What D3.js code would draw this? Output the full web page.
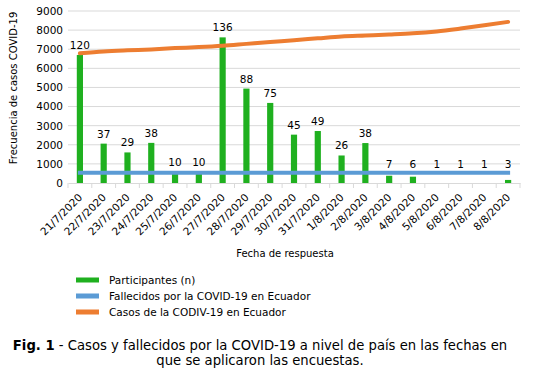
<!DOCTYPE html>
<html>
<head>
<meta charset="utf-8">
<script src="https://cdn.jsdelivr.net/npm/d3@7"></script>
<style>
  body { margin: 0; background: #fff; }
  text { font-family: "DejaVu Sans", Verdana, sans-serif; fill: #000; }
</style>
</head>
<body>
<script>
// data
var fechas = ["21/7/2020","22/7/2020","23/7/2020","24/7/2020","25/7/2020","26/7/2020",
              "27/7/2020","28/7/2020","29/7/2020","30/7/2020","31/7/2020","1/8/2020",
              "2/8/2020","3/8/2020","4/8/2020","5/8/2020","6/8/2020","7/8/2020","8/8/2020"];
var participantes = [120, 37, 29, 38, 10, 10, 136, 88, 75, 45, 49, 26, 38, 7, 6, 1, 1, 1, 3];
var barraAltura = [6700, 2060, 1600, 2100, 560, 560, 7620, 4940, 4190, 2530, 2720, 1440, 2090, 380, 330, 0, 0, 0, 160];
var fallecidos = [540, 540, 540, 540, 540, 540, 540, 540, 540, 540, 540, 540, 540, 540, 540, 540, 540, 540, 540];
var casos = [6790, 6880, 6940, 6990, 7060, 7110, 7180, 7280, 7380, 7470, 7570, 7670, 7720, 7770, 7830, 7930, 8080, 8250, 8430];
var yTicks = [0, 1000, 2000, 3000, 4000, 5000, 6000, 7000, 8000, 9000];

var width = 533, height = 373;
var margin = {left: 68, right: 13, top: 11, bottom: 190};

var svg = d3.select("body").append("svg")
  .attr("width", width).attr("height", height);

var x = d3.scaleBand()
  .domain(fechas)
  .range([margin.left, width - margin.right])
  .paddingInner(0.74).paddingOuter(0.37);

var xEdges = d3.scaleBand().domain(fechas).range([margin.left, width - margin.right]);

var y = d3.scaleLinear()
  .domain([0, 9000])
  .range([183, margin.top]);

// gridlines
svg.append("g")
  .selectAll("line").data(yTicks.slice(1)).enter().append("line")
  .attr("x1", margin.left).attr("x2", width - margin.right)
  .attr("y1", function(d){return y(d);}).attr("y2", function(d){return y(d);})
  .attr("stroke", "#d9d9d9").attr("stroke-width", 1);

// y axis
var yAxis = d3.axisLeft(y).tickValues(yTicks).tickFormat(d3.format("d")).tickSize(0).tickPadding(5);
var gy = svg.append("g").attr("transform", "translate(" + margin.left + ",0)").call(yAxis);
gy.select(".domain").remove();
gy.selectAll("text").style("font-size", "10.5px").attr("fill", "#000");

// x axis
var xAxis = d3.axisBottom(xEdges).tickSize(0).tickFormat("");
var gx = svg.append("g").attr("transform", "translate(0," + y(0) + ")").call(xAxis);
gx.select(".domain").attr("stroke", "#d9d9d9");
gx.selectAll(".tickmark").data(fechas.concat(["end"])).enter().append("line")
  .attr("x1", function(d, i){return margin.left + i * xEdges.step();})
  .attr("x2", function(d, i){return margin.left + i * xEdges.step();})
  .attr("y1", 0).attr("y2", 5)
  .attr("stroke", "#d9d9d9");

svg.append("g").selectAll("text").data(fechas).enter().append("text")
  .attr("transform", function(d){
    return "translate(" + (x(d) + x.bandwidth() / 2 + 3) + "," + (y(0) + 15) + ") rotate(-45)";
  })
  .attr("text-anchor", "end")
  .style("font-size", "10.5px")
  .text(function(d){return d;});

// bars
svg.append("g").selectAll("rect").data(barraAltura).enter().append("rect")
  .attr("x", function(d, i){return x(fechas[i]);})
  .attr("width", x.bandwidth())
  .attr("y", function(d){return y(d);})
  .attr("height", function(d){return y(0) - y(d);})
  .attr("fill", "#1fb01f");

// lines
var line = d3.line()
  .x(function(d, i){return x(fechas[i]) + x.bandwidth() / 2;})
  .y(function(d){return y(d);});

svg.append("path").attr("d", line(fallecidos))
  .attr("fill", "none").attr("stroke", "#5b9bd5").attr("stroke-width", 4)
  .attr("stroke-linecap", "square");

svg.append("path").attr("d", line.curve(d3.curveMonotoneX)(casos))
  .attr("fill", "none").attr("stroke", "#ed7d31").attr("stroke-width", 4)
  .attr("stroke-linecap", "round");

// bar labels
svg.append("g").selectAll("text").data(participantes).enter().append("text")
  .attr("x", function(d, i){return x(fechas[i]) + x.bandwidth() / 2;})
  .attr("y", function(d, i){return Math.min(y(barraAltura[i]) - 6, 168);})
  .attr("text-anchor", "middle")
  .style("font-size", "10.5px")
  .text(function(d){return d;});

// axis titles
svg.append("text")
  .attr("transform", "translate(17,88) rotate(-90)")
  .attr("text-anchor", "middle")
  .style("font-size", "10px")
  .text("Frecuencia de casos COVID-19");

svg.append("text")
  .attr("x", 285).attr("y", 257)
  .attr("text-anchor", "middle")
  .style("font-size", "10px")
  .text("Fecha de respuesta");

// legend
var leyenda = ["Participantes (n)", "Fallecidos por la COVID-19 en Ecuador", "Casos de la CODIV-19 en Ecuador"];
var colores = ["#1fb01f", "#5b9bd5", "#ed7d31"];
var lg = svg.append("g").selectAll("g").data(leyenda).enter().append("g")
  .attr("transform", function(d, i){return "translate(76," + (280 + i * 16) + ")";});
lg.append("rect").attr("x", 0).attr("y", -2.5).attr("width", 23).attr("height", 5)
  .attr("fill", function(d, i){return colores[i];});
lg.append("text").attr("x", 33).attr("y", 4)
  .style("font-size", "10.5px")
  .text(function(d){return d;});

// caption
var cap = svg.append("text").attr("x", 260).attr("y", 350)
  .attr("text-anchor", "middle").style("font-size", "13.2px");
cap.append("tspan").style("font-weight", "bold").text("Fig. 1");
cap.append("tspan").text(" - Casos y fallecidos por la COVID-19 a nivel de país en las fechas en");
svg.append("text").attr("x", 260).attr("y", 365)
  .attr("text-anchor", "middle").style("font-size", "13.2px")
  .text("que se aplicaron las encuestas.");
</script>
</body>
</html>
